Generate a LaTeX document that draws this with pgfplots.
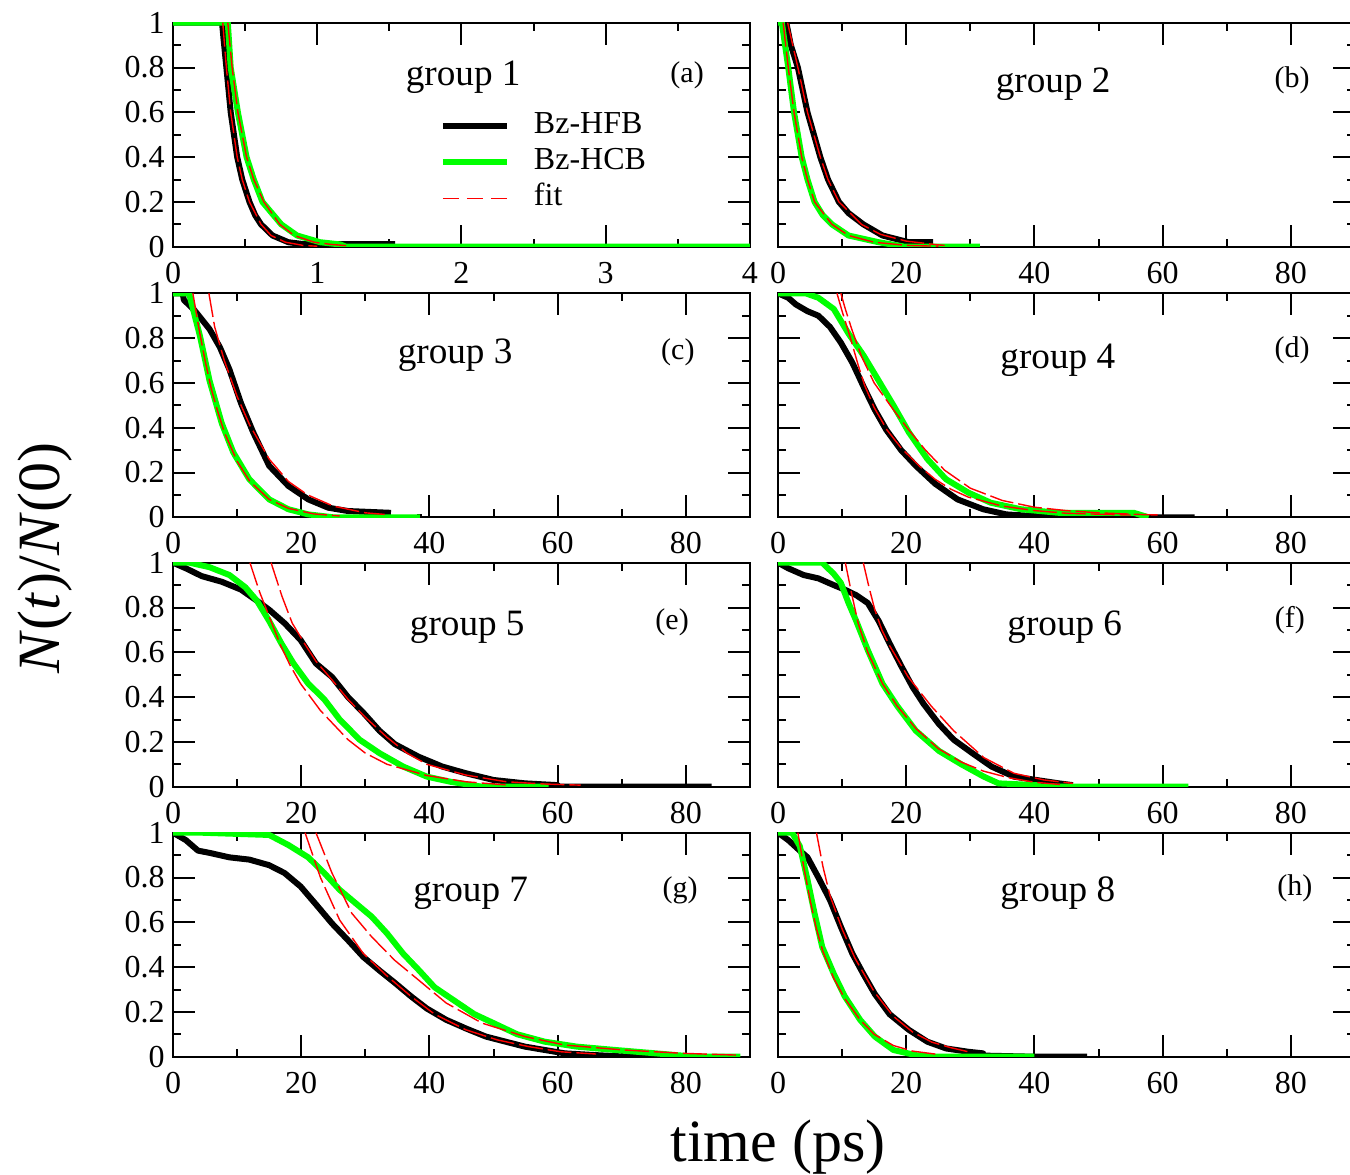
\documentclass[border=0pt]{standalone}
\usepackage{fontspec}
\setmainfont{Liberation Serif}
\usepackage{pgfplots}
\pgfplotsset{compat=1.18}
\definecolor{grn}{RGB}{0,255,0}
\tikzset{
  glab/.style={font=\fontsize{18.6}{20}\selectfont},
  plab/.style={font=\fontsize{15}{17}\selectfont},
}
\pgfplotsset{
  panel/.style={
    scale only axis, width=288.5pt, height=112pt,
    anchor=north west,
    xmin=0, xmax=90, ymin=0, ymax=1,
    axis line style={line width=1pt},
    every tick/.style={black, line width=1pt},
    major tick length=11pt, minor tick length=4pt,
    tick align=inside,
    xtick={0,20,40,60,80}, minor xtick={10,30,50,70,90},
    ytick={0,0.2,0.4,0.6,0.8,1}, minor ytick={0.1,0.3,0.5,0.7,0.9},
    /pgf/number format/assume math mode=true,
    tick label style={font=\fontsize{16}{18}\selectfont},
    xticklabel style={yshift=-4.1pt},
    yticklabel style={xshift=-0.7pt},
  },
  rpanel/.style={panel, yticklabels={}},
  hfb/.style={black, line width=3pt, line join=round},
  hcb/.style={grn, line width=3pt, line join=round},
  fitl/.style={red, line width=0.7pt, dash pattern=on 12pt off 2.5pt},
  fitleg/.style={red, line width=0.7pt, dash pattern=on 8pt off 4pt},
}
\begin{document}
\begin{tikzpicture}
\path[use as bounding box] (0,0) rectangle (675pt,-587pt);

% (a)
\begin{axis}[panel, at={(86.5pt,-11.35pt)}, xmax=4, xtick={0,1,2,3,4}, minor xtick={0.5,1.5,2.5,3.5},
  legend style={at={(0.462,0.62)}, anchor=north west, draw=none, fill=none, inner sep=0pt,
    font=\fontsize{16}{18}\selectfont, row sep=0pt, column sep=10.5pt,
    nodes={inner sep=1.5pt, text height=11pt, text depth=4pt}},
  legend cell align=left,
  legend image code/.code={\draw[#1] (0pt,0pt) -- (32pt,0pt);}]
\addlegendimage{hfb}
\addlegendentry{Bz-HFB}
\addlegendimage{hcb}
\addlegendentry{Bz-HCB}
\addlegendimage{fitleg}
\addlegendentry{fit}
\addplot[hfb, forget plot] coordinates {(0,1)(0.34,1)(0.35,0.93)(0.37,0.8)(0.40,0.6)(0.445,0.4)(0.48,0.3)(0.53,0.2)(0.57,0.14)(0.61,0.1)(0.69,0.05)(0.80,0.02)(0.9,0.012)(1.54,0.012)};
\addplot[hcb, forget plot] coordinates {(0,1)(0.38,1)(0.40,0.8)(0.45,0.6)(0.51,0.4)(0.56,0.3)(0.62,0.2)(0.75,0.1)(0.86,0.05)(1.02,0.02)(1.16,0.01)(1.2,0)(4,0)};
\addplot[fitl, forget plot] coordinates {(0.345,1)(0.37,0.8)(0.40,0.6)(0.445,0.4)(0.48,0.3)(0.53,0.2)(0.61,0.1)(0.68,0.05)(0.78,0.02)(0.9,0.006)(1.0,0.002)};
\addplot[fitl, forget plot] coordinates {(0.38,1)(0.41,0.8)(0.45,0.6)(0.51,0.4)(0.56,0.3)(0.63,0.2)(0.74,0.1)(0.84,0.05)(0.98,0.02)(1.1,0.01)(1.2,0.005)};
\node[glab] at (rel axis cs:0.503,0.758) {group 1};
\node[plab] at (rel axis cs:0.891,0.767) {(a)};
\end{axis}

% (b)
\begin{axis}[rpanel, at={(389pt,-11.35pt)}]
\addplot[hfb] coordinates {(0,1)(1.3,1)(2,0.9)(3.1,0.8)(4.6,0.6)(6.6,0.4)(7.8,0.3)(9.5,0.2)(11,0.15)(13.3,0.1)(16.3,0.05)(20.4,0.02)(24.2,0.02)};
\addplot[hcb] coordinates {(0,1)(0.6,1)(1.6,0.8)(2.5,0.6)(3.7,0.4)(4.6,0.3)(5.7,0.2)(7,0.14)(8.4,0.1)(11,0.05)(15.7,0.02)(19.8,0)(31.5,0)};
\addplot[fitl] coordinates {(1.5,1)(3.1,0.8)(4.6,0.6)(6.6,0.4)(7.8,0.3)(9.5,0.2)(13,0.1)(16,0.055)(20,0.025)(25,0.008)(26,0.006)};
\addplot[fitl] coordinates {(0.8,1)(1.6,0.8)(2.5,0.6)(3.7,0.4)(4.6,0.3)(5.7,0.2)(8.4,0.1)(11,0.05)(15,0.02)(20,0.006)(25,0.002)};
\node[glab] at (rel axis cs:0.477,0.726) {group 2};
\node[plab] at (rel axis cs:0.891,0.744) {(b)};
\end{axis}

% (c)
\begin{axis}[panel, at={(86.5pt,-146.65pt)}]
\addplot[hfb] coordinates {(0,1)(1.5,1)(1.7,0.97)(3.3,0.926)(5.7,0.84)(7.3,0.76)(8.8,0.66)(10.6,0.51)(12.5,0.38)(15,0.23)(18,0.14)(21.1,0.08)(24.2,0.043)(27.3,0.028)(34,0.02)};
\addplot[hfb] coordinates {(38.1,0)(38.9,0)};
\addplot[hcb] coordinates {(0,1)(2.5,1)(3.3,0.91)(4.2,0.81)(5.7,0.61)(7.6,0.42)(9.4,0.29)(11.9,0.17)(15,0.08)(18,0.036)(21.1,0.013)(25,0)(38.5,0)};
\addplot[fitl] coordinates {(5.6,1)(6.5,0.85)(8,0.7)(10,0.54)(12,0.41)(15,0.26)(18,0.16)(21,0.1)(25,0.05)(30,0.02)(33,0.013)};
\addplot[fitl] coordinates {(3.1,1)(4,0.85)(5,0.7)(6,0.57)(7,0.47)(8,0.38)(10,0.25)(12,0.16)(15,0.08)(18,0.04)(22,0.015)(26,0.006)};
\node[glab] at (rel axis cs:0.489,0.725) {group 3};
\node[plab] at (rel axis cs:0.875,0.738) {(c)};
\end{axis}

% (d)
\begin{axis}[rpanel, at={(389pt,-146.65pt)}]
\addplot[hfb] coordinates {(0,1)(1.6,0.98)(2.8,0.95)(4.6,0.92)(6.3,0.90)(8.1,0.85)(9.8,0.78)(11.6,0.69)(13.4,0.58)(15.1,0.48)(16.9,0.39)(19.2,0.30)(21.5,0.23)(24.5,0.15)(28,0.08)(32,0.036)(35.6,0.013)(39.7,0.006)(49.6,0)(65,0)};
\addplot[hcb] coordinates {(0,1)(4.3,1)(6.3,0.98)(8.7,0.93)(11,0.82)(13.4,0.72)(15.7,0.61)(18,0.50)(20.4,0.38)(23.3,0.26)(26.2,0.17)(29.7,0.11)(33.2,0.065)(37.9,0.036)(43.8,0.02)(55.5,0.02)(57.8,0)};
\addplot[fitl] coordinates {(9.2,1)(10,0.92)(11.3,0.8)(12.5,0.68)(13.5,0.59)(15,0.49)(17,0.39)(19.2,0.31)(22,0.23)(24.5,0.17)(27,0.125)(29.7,0.09)(35,0.05)(40,0.03)(45,0.018)(55,0.01)};
\addplot[fitl] coordinates {(9.8,1)(10.5,0.93)(11.5,0.84)(13,0.72)(15,0.6)(18,0.48)(20.4,0.39)(23,0.30)(26,0.21)(30,0.13)(35,0.075)(40,0.045)(45,0.03)(50,0.02)(57,0.012)(60,0.01)};
\node[glab] at (rel axis cs:0.485,0.70) {group 4};
\node[plab] at (rel axis cs:0.891,0.744) {(d)};
\end{axis}

% (e)
\begin{axis}[panel, at={(86.5pt,-281.35pt)}]
\addplot[hfb] coordinates {(0,1)(2,0.975)(4.5,0.94)(7.6,0.915)(10.6,0.88)(13.1,0.83)(15,0.79)(17.4,0.73)(19.9,0.655)(22.3,0.55)(24.8,0.49)(27.3,0.40)(29.7,0.33)(32.2,0.25)(34.6,0.19)(38.3,0.134)(42,0.09)(45.7,0.06)(50,0.03)(54.9,0.015)(60,0.007)(60,0)(84,0)};
\addplot[hcb] coordinates {(0,1)(2.6,1)(5.7,0.98)(8.8,0.945)(11.3,0.89)(13.1,0.83)(15,0.74)(16.9,0.64)(18.8,0.55)(21.1,0.46)(23.6,0.39)(26,0.30)(29.1,0.21)(32.2,0.15)(35.9,0.09)(39.6,0.045)(43.3,0.022)(48.2,0)(58.6,0)};
\addplot[fitl] coordinates {(15.3,1)(17,0.85)(18.6,0.73)(20.5,0.64)(22.3,0.56)(25,0.47)(27.3,0.39)(30,0.31)(33.4,0.22)(36.5,0.15)(39.6,0.10)(45.7,0.052)(52,0.022)(58,0.012)(63.6,0.007)};
\addplot[fitl] coordinates {(12,1)(13.5,0.87)(15,0.76)(16.8,0.63)(18.3,0.54)(19.9,0.46)(23,0.34)(27.3,0.21)(30,0.15)(33.4,0.10)(39.6,0.05)(45.7,0.022)(52,0.008)};
\node[glab] at (rel axis cs:0.51,0.713) {group 5};
\node[plab] at (rel axis cs:0.865,0.735) {(e)};
\end{axis}

% (f)
\begin{axis}[rpanel, at={(389pt,-281.35pt)}]
\addplot[hfb] coordinates {(0,1)(1.6,0.975)(4,0.945)(6.3,0.93)(8.7,0.90)(10.4,0.88)(12.2,0.855)(14,0.82)(15.7,0.74)(17.4,0.64)(19.2,0.54)(21,0.445)(22.7,0.37)(25.1,0.28)(27.4,0.21)(30.3,0.15)(33.3,0.09)(36.8,0.045)(40.3,0.03)(43.8,0.015)(46,0.007)};
\addplot[hcb] coordinates {(0,1)(6.9,1)(8.7,0.95)(9.8,0.91)(11,0.82)(12.2,0.74)(14,0.61)(16.3,0.46)(18.6,0.36)(21.5,0.25)(25.1,0.16)(28.6,0.10)(32.1,0.045)(34.4,0.015)(40.3,0.007)(41,0)(64,0)};
\addplot[fitl] coordinates {(13.3,1)(14.2,0.89)(15.1,0.79)(16.2,0.70)(17.4,0.63)(20.3,0.49)(23.9,0.36)(27.4,0.25)(32.1,0.13)(36.8,0.06)(41.5,0.03)(46,0.015)};
\addplot[fitl] coordinates {(10.5,1)(11.5,0.86)(12.5,0.73)(14,0.60)(16.3,0.46)(18.6,0.36)(21.5,0.26)(25,0.17)(28.6,0.11)(32,0.07)(36,0.04)(40,0.02)(44,0.01)};
\node[glab] at (rel axis cs:0.497,0.713) {group 6};
\node[plab] at (rel axis cs:0.887,0.742) {(f)};
\end{axis}

% (g)
\begin{axis}[panel, at={(86.5pt,-416.35pt)}]
\addplot[hfb] coordinates {(0,1)(2,0.967)(3.9,0.92)(5.7,0.91)(8.8,0.89)(11.9,0.88)(15,0.855)(17.4,0.82)(19.9,0.76)(22.3,0.68)(24.8,0.595)(27.3,0.52)(29.7,0.445)(32.2,0.385)(34.6,0.33)(37.1,0.27)(39.6,0.215)(42.6,0.165)(45.7,0.126)(48.8,0.09)(51.9,0.067)(54.9,0.045)(58,0.03)(61.1,0.015)(66,0.007)(71,0)(80,0)};
\addplot[hcb] coordinates {(0,1)(4.5,1)(15,0.99)(18,0.945)(21.1,0.89)(23.6,0.82)(26,0.745)(28.5,0.685)(31,0.625)(33.4,0.55)(35.9,0.46)(38.4,0.385)(40.8,0.31)(43.9,0.25)(47,0.19)(50,0.15)(53.7,0.10)(58,0.067)(63,0.045)(69,0.03)(75.3,0.015)(81.4,0)(88.5,0)};
\addplot[fitl] coordinates {(20.6,1)(23,0.80)(26,0.61)(29.7,0.46)(33.4,0.36)(37.1,0.27)(40.8,0.19)(45.7,0.12)(50.6,0.075)(55.5,0.045)(60.5,0.022)(66,0.012)};
\addplot[fitl] coordinates {(22.3,1)(24.8,0.82)(27.9,0.64)(31,0.535)(34.6,0.43)(38.4,0.34)(42.6,0.24)(48.2,0.15)(54.9,0.09)(61.1,0.052)(70.3,0.03)(79.6,0.015)(88.2,0.007)};
\node[glab] at (rel axis cs:0.516,0.73) {group 7};
\node[plab] at (rel axis cs:0.879,0.745) {(g)};
\end{axis}

% (h)
\begin{axis}[rpanel, at={(389pt,-416.35pt)}]
\addplot[hfb] coordinates {(0,1)(1.6,0.967)(3.4,0.92)(4.6,0.89)(6.3,0.80)(8.1,0.70)(9.8,0.58)(11.6,0.46)(13.3,0.37)(15.1,0.28)(17.4,0.19)(20.4,0.12)(23.3,0.067)(26.2,0.037)(29.7,0.022)(32,0.015)(32,0.005)(40,0)(48.2,0)};
\addplot[hcb] coordinates {(0,1)(2.2,1)(3.4,0.94)(4.6,0.79)(5.7,0.64)(6.9,0.49)(8.7,0.37)(10.4,0.27)(12.8,0.165)(15.1,0.09)(18,0.03)(21.5,0.007)(24,0)(40,0)};
\addplot[fitl] coordinates {(6,1)(7,0.85)(8.1,0.72)(10,0.57)(12,0.44)(15,0.29)(18,0.18)(21,0.11)(24,0.065)(27,0.04)(30,0.02)};
\addplot[fitl] coordinates {(3.1,1)(4,0.85)(5,0.7)(6,0.57)(7,0.47)(8.7,0.35)(10.4,0.26)(12.8,0.165)(15,0.1)(18,0.05)(21,0.025)(25,0.01)};
\node[glab] at (rel axis cs:0.485,0.73) {group 8};
\node[plab] at (rel axis cs:0.896,0.75) {(h)};
\end{axis}

\node[font=\fontsize{30}{34}\selectfont] at (389pt,-573.5pt) {time (ps)};
\node[font=\fontsize{30}{34}\selectfont, rotate=90] at (22.5pt,-279pt) {\textit{N}(\textit{t})/\textit{N}(0)};
\end{tikzpicture}
\end{document}
